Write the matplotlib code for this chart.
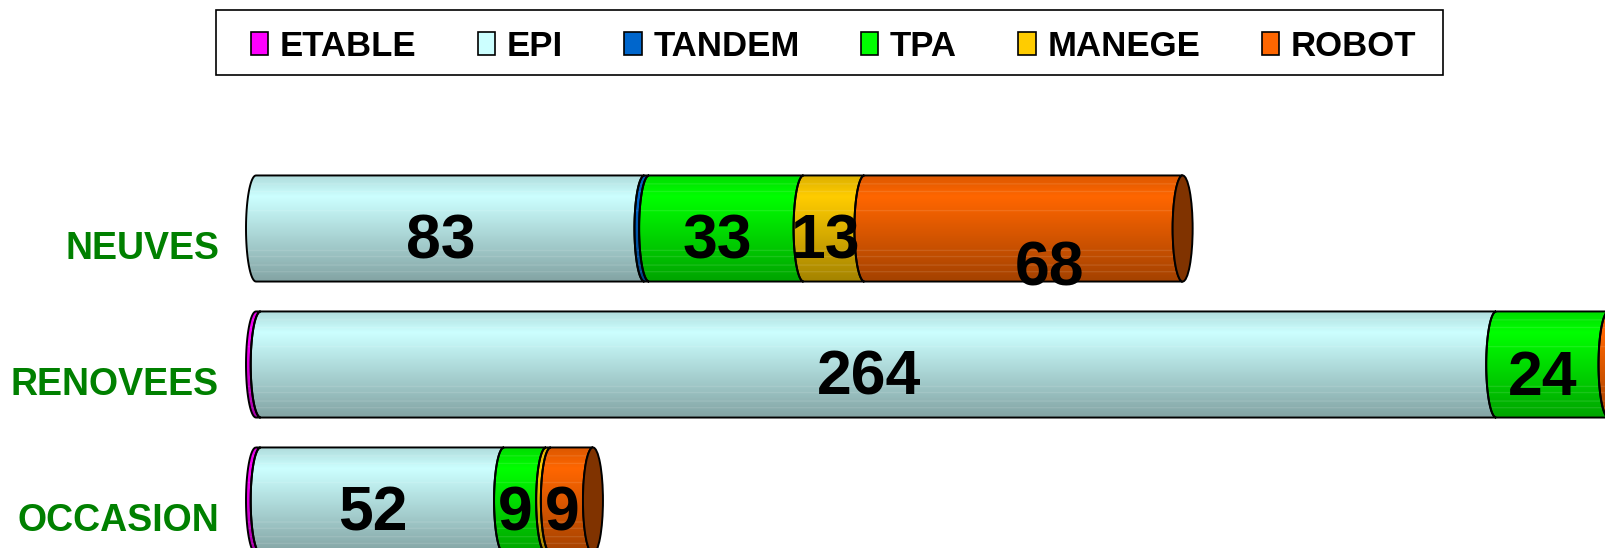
import numpy as np
import matplotlib.pyplot as plt
import matplotlib.colors as mcolors
from matplotlib.path import Path
from matplotlib.patches import PathPatch, Patch, Rectangle, Ellipse

plt.rcParams['font.family'] = ['Liberation Sans', 'DejaVu Sans']

categories = ['NEUVES', 'RENOVEES', 'OCCASION']
series = ['ETABLE', 'EPI', 'TANDEM', 'TPA', 'MANEGE', 'ROBOT']
etable = [0, 1, 1]
epi = [83, 264, 52]
tandem = [1, 0, 0]
tpa = [33, 24, 9]
manege = [13, 0, 1]
robot = [68, 40, 9]
colors = ['#FF00FF', '#CCFFFF', '#0066CC', '#00FF00', '#FFCC00', '#FF6600']

values = np.array([etable, epi, tandem, tpa, manege, robot])

# the "68" label sits off centre in the original
label_shift = {(0, 5): (5.5, 0.30)}

fig = plt.figure(figsize=(16.05, 5.48), dpi=100)
ax = fig.add_axes([0, 0, 1, 1])
px = 4.68  # pixels per unit
x_org = 256
xmax = (1605 - x_org) / px
ax.set_xlim(-x_org / px, xmax)
ax.set_ylim((548 - 228.5) / 136, -228.5 / 136)
ax.axis('off')

r = 0.39      # half bar height
a = 10 / px   # half width of the cylinder ellipse


def arc(xc, yc, start, stop):
    th = np.linspace(start, stop, 40)
    return np.column_stack([xc - a * np.sin(th), yc - r * np.cos(th)])


def shade(color, n=240):
    rgb = np.array(mcolors.to_rgb(color))
    t = np.linspace(0, 1, n)
    f = np.where(t < 0.2, 0.86 + 0.14 * t / 0.2, 1 - 0.36 * (t - 0.2) / 0.8)
    img = rgb[None, :] * f[:, None]
    for s in [0.08, 0.15, 0.33, 0.7, 0.76, 0.84, 0.9]:
        k = int(s * n)
        img[k:k + 2] = img[k:k + 2] * 0.85 + 0.15
    return np.clip(img, 0, 1).reshape(n, 1, 3)


for i, cat in enumerate(categories):
    left = 0
    last = None
    for j in range(len(series)):
        v = values[j, i]
        if v <= 0:
            continue
        x0, x1 = left, left + v
        pts = np.vstack([[[x0, i - r]], [[x1, i - r]], arc(x1, i, 0, np.pi),
                         [[x0, i + r]], arc(x0, i, np.pi, 0)])
        path = Path(pts, closed=True)
        clip = PathPatch(path, facecolor='none', edgecolor='none')
        ax.add_patch(clip)
        im = ax.imshow(shade(colors[j]), extent=(x0 - a, x1 + a, i + r, i - r),
                       aspect='auto', interpolation='bilinear', zorder=2)
        im.set_clip_path(clip)
        ax.add_patch(PathPatch(path, facecolor='none', edgecolor='black',
                               lw=1.4, zorder=3))
        dx, dy = label_shift.get((i, j), (-2.0, 0.10))
        xc = (x0 + x1) / 2 + dx
        if v >= 5 and xc < xmax - 8:
            ax.text(xc, i + dy, str(v), ha='center', va='center',
                    fontsize=45, fontweight='bold', color='black', zorder=5)
        left = x1
        last = j
    cap = np.array(mcolors.to_rgb(colors[last])) * 0.5
    ax.add_patch(Ellipse((left, i), 2 * a, 2 * r, facecolor=cap,
                         edgecolor='black', lw=1.4, zorder=4))
    ax.text(-7.9, i + 0.15, cat, ha='right', va='center', fontsize=27,
            fontweight='bold', color='#008000')

handles = [Patch(facecolor=c, edgecolor='black', lw=1.2) for c in colors]
fig.legend(handles, series, loc='center left', ncol=6,
           bbox_to_anchor=(251 / 1605, 1 - 46 / 548), frameon=False,
           borderpad=0, borderaxespad=0, prop={'weight': 'bold', 'size': 25},
           handlelength=0.5, handleheight=0.62, handletextpad=0.33,
           columnspacing=1.77)
fig.patches.append(Rectangle((216 / 1605, 1 - 75 / 548), 1227 / 1605, 65 / 548,
                             transform=fig.transFigure, facecolor='none',
                             edgecolor='black', lw=1.2))

fig.savefig('out.png', dpi=100)
